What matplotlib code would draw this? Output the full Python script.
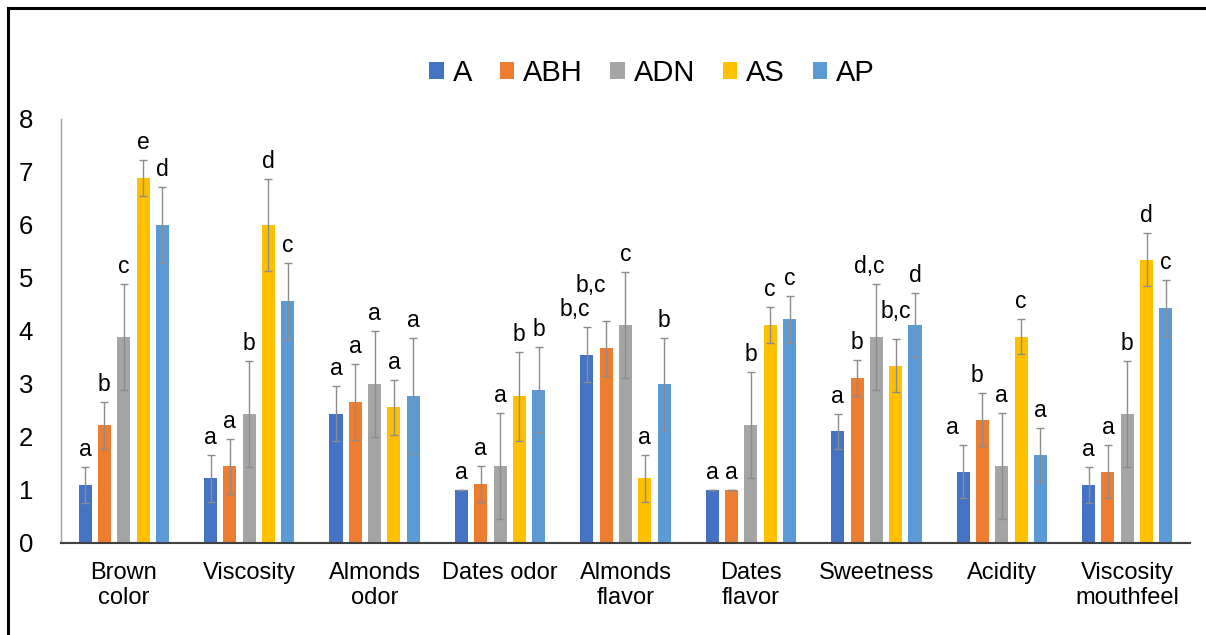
import matplotlib
matplotlib.use("Agg")
import matplotlib.pyplot as plt
from matplotlib.lines import Line2D
from matplotlib.transforms import offset_copy
import numpy as np

plt.rcParams['font.family'] = ['Liberation Sans', 'DejaVu Sans']

categories = ["Brown\ncolor", "Viscosity", "Almonds\nodor", "Dates odor", "Almonds\nflavor",
              "Dates\nflavor", "Sweetness", "Acidity", "Viscosity\nmouthfeel"]
series = ["A", "ABH", "ADN", "AS", "AP"]
colors = ["#4472C4", "#ED7D31", "#A5A5A5", "#FFC000", "#5B9BD5"]

mean_A   = [1.10, 1.22, 2.44, 1.00, 3.55, 1.00, 2.11, 1.34, 1.10]
mean_ABH = [2.22, 1.45, 2.66, 1.11, 3.67, 1.00, 3.11, 2.33, 1.34]
mean_ADN = [3.89, 2.44, 3.00, 1.45, 4.11, 2.22, 3.89, 1.45, 2.44]
mean_AS  = [6.89, 6.00, 2.56, 2.77, 1.22, 4.11, 3.34, 3.89, 5.34]
mean_AP  = [6.00, 4.56, 2.77, 2.89, 3.00, 4.22, 4.11, 1.66, 4.44]

sd_A   = [0.34, 0.44, 0.52, 0.00, 0.52, 0.00, 0.33, 0.50, 0.34]
sd_ABH = [0.44, 0.52, 0.72, 0.34, 0.51, 0.00, 0.34, 0.50, 0.50]
sd_ADN = [1.00, 1.00, 1.00, 1.00, 1.00, 1.00, 1.00, 1.00, 1.00]
sd_AS  = [0.34, 0.87, 0.52, 0.84, 0.44, 0.34, 0.50, 0.33, 0.50]
sd_AP  = [0.71, 0.72, 1.10, 0.80, 0.86, 0.44, 0.61, 0.51, 0.53]

letters_A   = ["a", "a", "a", "a", "b,c", "a", "a", "a", "a"]
letters_ABH = ["b", "a", "a", "a", "b,c", "a", "b", "b", "a"]
letters_ADN = ["c", "b", "a", "a", "c", "b", "d,c", "a", "b"]
letters_AS  = ["e", "d", "a", "b", "a", "c", "b,c", "c", "d"]
letters_AP  = ["d", "c", "a", "b", "b", "c", "d", "a", "c"]

means = [mean_A, mean_ABH, mean_ADN, mean_AS, mean_AP]
sds = [sd_A, sd_ABH, sd_ADN, sd_AS, sd_AP]
letters = [letters_A, letters_ABH, letters_ADN, letters_AS, letters_AP]

# label nudges in pixels (dx, dy) keyed by (category index, series index)
nudges = {(4, 0): (-12, 0), (4, 1): (-15, 18), (6, 2): (-7, 0), (6, 3): (0, 10),
          (7, 0): (-11, 0), (7, 1): (-6, 0)}

fig = plt.figure(figsize=(12.06, 6.35), dpi=100)
ax = fig.add_axes([0.0506, 0.1449, 0.9361, 0.6677])

x = np.arange(len(categories))
step = 0.154
width = 0.104
for i, name in enumerate(series):
    pos = x + (i - 2) * step
    ax.bar(pos, means[i], width=width, color=colors[i], label=name, zorder=2)
    ax.errorbar(pos, means[i], yerr=sds[i], fmt='none', ecolor='#8c8c8c',
                elinewidth=1.0, capsize=3, capthick=1.0, zorder=3)
    for j in range(len(categories)):
        dx, dy = nudges.get((j, i), (0, 0))
        tr = offset_copy(ax.transData, fig=fig, x=dx * 0.72, y=(11 + dy) * 0.72, units='points')
        ax.text(pos[j], means[i][j] + sds[i][j], letters[i][j], transform=tr,
                ha='center', va='baseline', fontsize=16.5, color='black', zorder=4)

ax.set_xlim(-0.5, len(categories) - 0.5)
ax.set_ylim(0, 8)
ax.set_yticks(range(0, 9))
ax.set_xticks(x)
ax.set_xticklabels(categories, linespacing=1.15)
ax.tick_params(axis='y', length=0, pad=20, labelsize=18.5)
ax.tick_params(axis='x', length=0, pad=14, labelsize=17)
for s in ['top', 'right']:
    ax.spines[s].set_visible(False)
ax.spines['left'].set_color('#a0a0a0')
ax.spines['left'].set_linewidth(1.0)
ax.spines['bottom'].set_color('#404040')
ax.spines['bottom'].set_linewidth(1.5)

leg = fig.legend(loc='center', bbox_to_anchor=(0.5406, 0.885), ncol=5, frameon=False,
                 fontsize=21, handlelength=0.5, handleheight=0.5, handletextpad=0.3,
                 columnspacing=0.95)

# frame lines along the left and top edges
W, H = 1206, 635
fig.add_artist(Line2D([8 / W, 8 / W], [0, 1 - 8 / H], transform=fig.transFigure,
                      color='black', lw=2.2))
fig.add_artist(Line2D([8 / W, 1], [1 - 8 / H, 1 - 8 / H], transform=fig.transFigure,
                      color='black', lw=2.2))

fig.savefig("out.png", dpi=100)
